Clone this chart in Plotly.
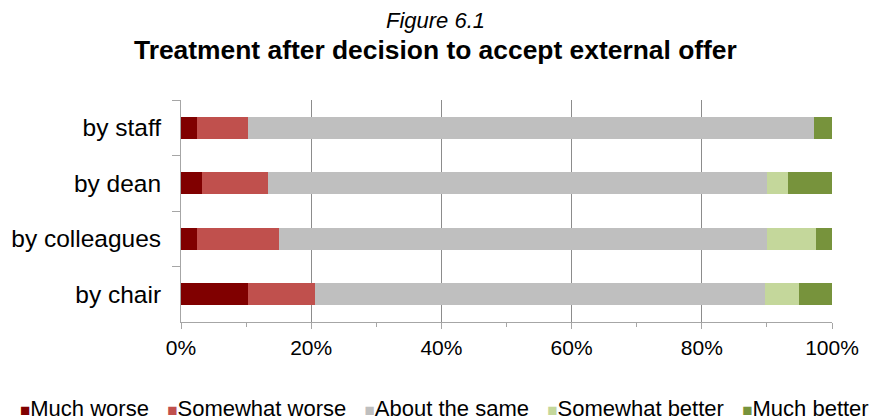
import plotly.graph_objects as go

# Responses by source of treatment (percent of respondents)
categories = ["by staff", "by dean", "by colleagues", "by chair"]
series_names = ["Much worse", "Somewhat worse", "About the same", "Somewhat better", "Much better"]
much_worse = [2.5, 3.3, 2.5, 10.3]
somewhat_worse = [7.8, 10.1, 12.5, 10.3]
about_same = [87.0, 76.6, 75.0, 69.1]
somewhat_better = [0.0, 3.3, 7.5, 5.2]
much_better = [2.7, 6.7, 2.5, 5.1]
x_tick_values = [0, 20, 40, 60, 80, 100]
x_tick_labels = ["0%", "20%", "40%", "60%", "80%", "100%"]

colors = ["#800000", "#C0504D", "#BFBFBF", "#C4D79B", "#77933C"]
values = [much_worse, somewhat_worse, about_same, somewhat_better, much_better]

FONT = "Liberation Sans, Arial, sans-serif"

fig = go.Figure()
for name, vals, col in zip(series_names, values, colors):
    fig.add_trace(go.Bar(
        y=categories, x=vals, name=name, orientation="h",
        marker=dict(color=col, line=dict(width=0)),
        width=0.4, showlegend=False,
    ))

# Legend row drawn as text with coloured squares
legend_parts = []
for name, col in zip(series_names, colors):
    legend_parts.append(
        f"<span style='color:{col};font-size:17px'>■</span>{name}"
    )
legend_text = "&nbsp;&nbsp;&nbsp;".join(legend_parts)

fig.update_layout(
    barmode="stack",
    width=873, height=420,
    margin=dict(l=181, r=41, t=100, b=98),
    plot_bgcolor="white", paper_bgcolor="white",
    font=dict(family=FONT, color="#000000"),
    xaxis=dict(
        range=[0, 100], tickvals=x_tick_values, ticktext=x_tick_labels,
        showgrid=True, gridcolor="#8c8c8c", gridwidth=1,
        showline=True, linecolor="#a6a6a6", linewidth=1,
        ticks="outside", ticklen=6, tickcolor="#a6a6a6",
        minor=dict(dtick=10, ticks="outside", ticklen=4, tickcolor="#a6a6a6", showgrid=False),
        tickfont=dict(size=21, family=FONT),
        ticklabelstandoff=1,
        zeroline=False, fixedrange=True,
    ),
    yaxis=dict(
        autorange="reversed",
        showline=True, linecolor="#a6a6a6", linewidth=1,
        ticks="outside", ticklen=8, tickcolor="#a6a6a6", tickson="boundaries",
        tickfont=dict(size=24.5, family=FONT),
        ticklabelstandoff=14,
        showgrid=False, fixedrange=True,
    ),
    annotations=[
        dict(text="<i>Figure 6.1</i>", xref="paper", yref="paper",
             x=0.3917, y=1.36, xanchor="center", yanchor="middle",
             showarrow=False, font=dict(size=22, family=FONT)),
        dict(text="<b>Treatment after decision to accept external offer</b>",
             xref="paper", yref="paper", x=0.3917, y=1.225,
             xanchor="center", yanchor="middle", showarrow=False,
             font=dict(size=26.4, family=FONT)),
        dict(text=legend_text, xref="paper", yref="paper",
             x=(444 - 181) / 651, y=-0.39, xanchor="center", yanchor="middle",
             showarrow=False, font=dict(size=22, family=FONT)),
    ],
)

fig.write_html("out.html")
